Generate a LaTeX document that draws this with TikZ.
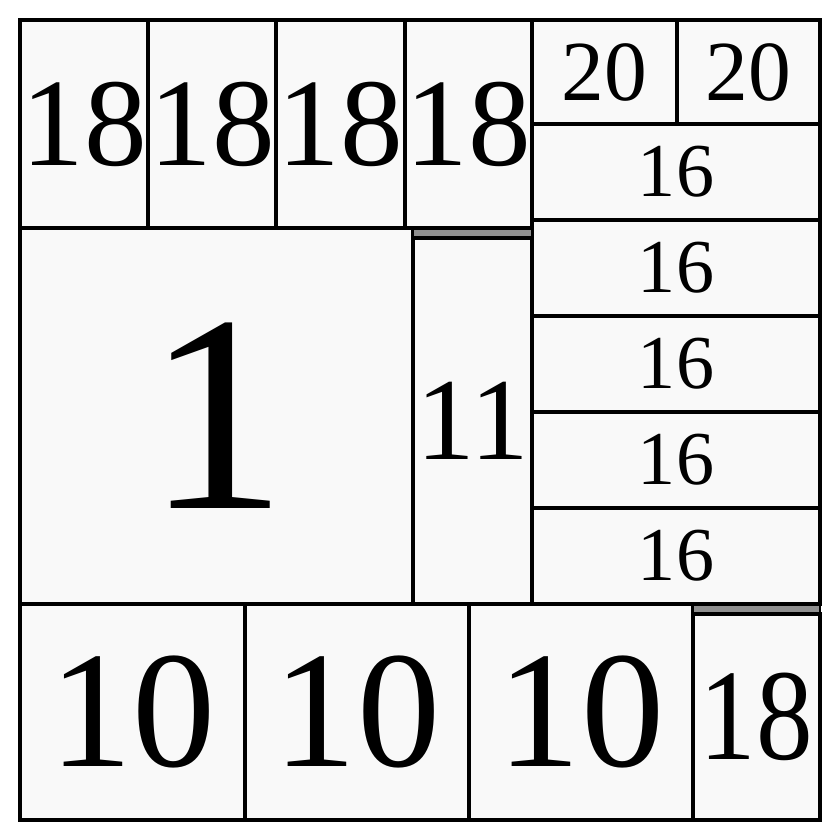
\documentclass[tikz,border=0pt]{standalone}
\usepackage{fontspec}
\setmainfont{Liberation Serif}
\definecolor{cellfill}{HTML}{F9F9F9}
\definecolor{stripfill}{HTML}{8F8F8F}

\begin{document}
\begin{tikzpicture}[x=0.03cm, y=-0.03cm]
		\tikzset{
			cell/.style={draw, line width=3pt, fill=cellfill, inner sep=0pt},
			strip/.style={draw, line width=2pt, fill=stripfill}
		}
		\fill[white] (0,0) rectangle (840,840);
		\useasboundingbox (0,0) rectangle (840,840);
		
		\foreach \n/\xa/\ya/\xb/\yb/\s/\t in {
			top-1/20/20/148/228/107/18, top-2/148/20/276/228/107/18,
			top-3/276/20/405/228/107/18, top-4/405/20/532/228/107/18,
			pair-1/532/20/677/124/73/20, pair-2/677/20/820/124/73/20,
			row-1/532/124/820/220/65/16, row-2/532/220/820/316/65/16,
			row-3/532/316/820/412/65/16, row-4/532/412/820/508/65/16,
			row-5/532/508/820/604/65/16,
			big/20/228/413/604/240/1, mid/413/238/532/604/100/11,
			bottom-1/20/604/245/820/142/10, bottom-2/245/604/469/820/142/10,
			bottom-3/469/604/693/820/142/10,
			corner/693/614/820/820/111/\scalebox{0.87}[1]{18}}
		\node [cell, minimum width={(\xb-\xa)*0.03cm}, minimum height={(\yb-\ya)*0.03cm},
			font=\fontsize{\s}{\s}\selectfont] (\n) at ({(\xa+\xb)/2},{(\ya+\yb)/2}) {\t};
		
		\draw [strip] (413,229) rectangle (532,237);
		\draw [strip] (693,605) rectangle (820,613);
		
		\end{tikzpicture}
\end{document}
